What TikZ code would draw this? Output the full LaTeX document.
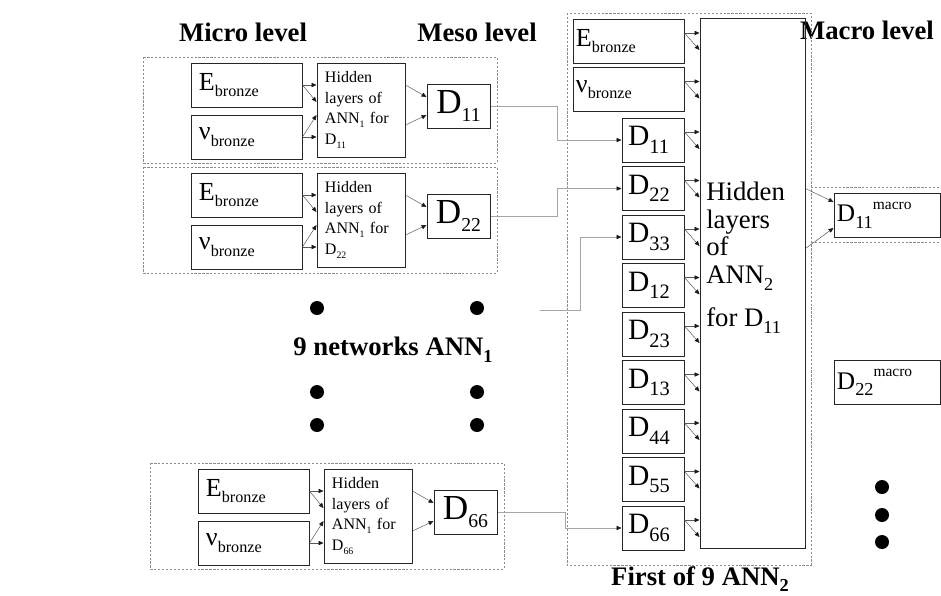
\documentclass[tikz,border=0pt]{standalone}
\usepackage{fontspec}
\setmainfont{Liberation Serif}
\usetikzlibrary{arrows.meta,calc,positioning}
\newcommand{\lowtxt}[2]{\raisebox{-0.25em}{\fontsize{#1}{#1}\selectfont #2}}
\tikzset{
  grp/.style={draw=black!45, line width=0.4pt, dash pattern=on 1.6pt off 1.2pt},
  ttl/.style={font=\fontsize{19}{22}\selectfont\bfseries, inner sep=0pt},
  inbox/.style={draw=black!85, line width=0.7pt, fill=white, minimum height=1.1cm,
    inner xsep=0.175cm, inner ysep=0pt, text width=2.4cm, align=left,
    font=\fontsize{18.5}{18.5}\selectfont},
  hidbox/.style={draw=black!85, line width=0.7pt, fill=white, minimum height=2.35cm,
    inner xsep=0.2cm, inner ysep=0pt, text width=1.8cm, align=left,
    font=\fontsize{11.4}{14.6}\selectfont},
  dbox/.style={draw=black!85, line width=0.7pt, fill=white, minimum width=1.575cm,
    minimum height=1.1cm, inner sep=0pt, font=\fontsize{25}{25}\selectfont},
  abox/.style={inbox, text width=2.625cm, inner xsep=0.075cm},
  dbox2/.style={inbox, text width=1.25cm, inner xsep=0.15cm, font=\fontsize{21}{21}\selectfont},
  hidbig/.style={draw=black!85, line width=0.7pt, minimum width=2.625cm, minimum height=13.225cm},
  mbox/.style={inbox, text width=2.5cm, inner xsep=0.075cm, font=\fontsize{18}{18}\selectfont},
  link/.style={draw=black!65, line width=0.35pt, -{Triangle[length=3.5pt,width=3pt,color=black!90]}},
  feed/.style={draw=black!35, line width=0.4pt, -{Triangle[length=3.5pt,width=3pt,color=black!90]}},
}
\begin{document}
\begin{tikzpicture}[x=0.025cm, y=-0.025cm]
\useasboundingbox (0,0) rectangle (941,595);
% titles
\node[ttl] (micro) at (243,32) {Micro level};
\node[ttl] (meso) at (477,32) {Meso level};
\node[ttl] (macro) at (867,30) {Macro level};
\node[ttl] (nets) at (393,350) {9 networks ANN\lowtxt{13}{1}};
\node[ttl] (first) at (700,579) {First of 9 ANN\lowtxt{13}{2}};
% networks ANN1 (micro -> meso)
\foreach \g/\dx/\dy/\dd in {1/0/0/11, 2/0/110/22, 3/7/406/66}{
  \draw[grp] (143+\dx,57+\dy) rectangle (497+\dx,163+\dy);
  \node[inbox] (E\g) at (247+\dx,85+\dy) {E\lowtxt{11.5}{bronze}};
  \node[inbox] (nu\g) at (247+\dx,137+\dy) {ν\lowtxt{11.5}{bronze}};
  \node[hidbox] (h\g) at (361+\dx,110+\dy) {Hidden\\layers of\\ANN\lowtxt{7}{1} for\\D\lowtxt{7}{\dd}};
  \node[dbox] (Dm\dd) at (458.5+\dx,106+\dy) {D\lowtxt{14}{\dd}};
  \draw[link] (E\g.east) -- (E\g.east -| h\g.west);
  \draw[link] (E\g.east) -- ($(h\g.west)+(0,-8)$);
  \draw[link] (nu\g.east) -- (nu\g.east -| h\g.west);
  \draw[link] (nu\g.east) -- ($(h\g.west)+(0,5)$);
  \draw[link] ($(h\g.east)+(0,-25)$) -- ($(Dm\dd.west)+(0,-9)$);
  \draw[link] ($(h\g.east)+(0,15)$) -- ($(Dm\dd.west)+(0,9)$);
}
% dots for the hidden networks
\foreach \y in {308,392,425}{
  \fill (317,\y) circle (7);
  \fill (477,\y) circle (7);
}
% first ANN2
\draw[grp] (567,13) rectangle (811,565);
\draw[grp] (811,187) -- (941,187);
\draw[grp] (811,242) -- (941,242);
\node[abox] (Ea) at (628.5,41) {E\lowtxt{11.5}{bronze}};
\node[abox] (nua) at (628.5,89.5) {ν\lowtxt{11.5}{bronze}};
\foreach \dd [count=\k] in {11,22,33,12,23,13,44,55,66}
  \node[dbox2] (D\dd) at (653,{140+48.5*(\k-1)}) {D\lowtxt{14.5}{\dd}};
\node[hidbig] (hA) at (752.5,283.5) {};
\node[font=\fontsize{19}{19.6}\selectfont, align=left, anchor=north west, inner sep=0pt]
  (hAtxt) at (706,182) {Hidden\\layers\\of\\ANN\lowtxt{13}{2}\\[11pt]for D\lowtxt{13}{11}};
\foreach \n in {Ea,nua,D11,D22,D33,D12,D23,D13,D44,D55,D66}{
  \draw[link] ($(\n.east)+(0,-8)$) -- ($(\n.east -| hA.west)+(0,-8)$);
  \draw[link] ($(\n.east)+(0,-8)$) -- ($(\n.east -| hA.west)+(0,9)$);
}
% meso outputs into ANN2
\coordinate (c33) at (540,310);
\draw[feed] (Dm11.east) -- ++(67,0) |- (D11.west);
\draw[feed] (Dm22.east) -- ++(67,0) |- (D22.west);
\draw[feed] (c33) -- ++(40,0) |- (D33.west);
\draw[feed] (Dm66.east) -- ++(68,0) |- (D66.west);
% macro level
\node[mbox] (M11) at (887,215) {D\lowtxt{13}{11}\raisebox{0.5em}{\fontsize{11}{11}\selectfont macro}};
\node[mbox] (M22) at (887,382.5) {D\lowtxt{13}{22}\raisebox{0.5em}{\fontsize{11}{11}\selectfont macro}};
\draw[link] ($(hA.east)+(0,-95)$) -- ($(M11.west)+(0,-13)$);
\draw[link] ($(hA.east)+(0,-35)$) -- ($(M11.west)+(0,13)$);
\foreach \y in {487,515,542}
  \fill (882,\y) circle (7);
\end{tikzpicture}
\end{document}
